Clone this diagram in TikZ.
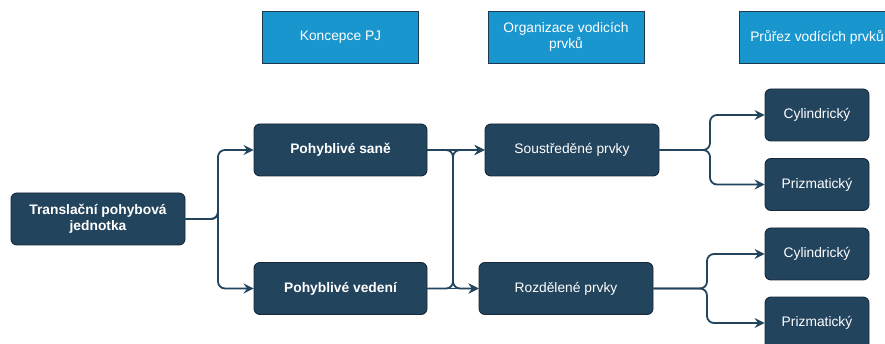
\documentclass[tikz,border=0pt]{standalone}
\usepackage{fontspec}
\setmainfont{Liberation Sans}
\usetikzlibrary{arrows.meta}
\definecolor{darkbox}{HTML}{23445D}
\definecolor{darkedge}{HTML}{16283A}
\definecolor{headfill}{HTML}{1A96CF}
\definecolor{headedge}{HTML}{1E3A4F}
\tikzset{
  x=1pt, y=-1pt,
  darknode/.style={draw=darkedge, line width=0.9pt, fill=darkbox, rounded corners=6pt,
    text=white, align=center, inner sep=2pt, minimum height=52pt,
    font=\fontsize{13.8}{16}\selectfont},
  boldnode/.style={darknode, font=\fontsize{13.8}{16}\selectfont\bfseries},
  headnode/.style={draw=headedge, line width=0.9pt, fill=headfill, text=white,
    align=center, minimum height=52pt, minimum width=156pt, inner sep=2pt,
    font=\fontsize{13.8}{16}\selectfont},
  conn/.style={draw=darkbox, line width=1.8pt, rounded corners=7pt,
    -{Stealth[length=10pt,width=10pt,inset=3.5pt]}},
}
\begin{document}
\begin{tikzpicture}
\useasboundingbox (0,0) rectangle (885,344);
\fill[white] (0,0) rectangle (885,344);
\clip (0,0) rectangle (885,344);
% headers
\node[headnode] (h1) at (340.5,37) {Koncepce PJ};
\node[headnode] (h2) at (566,37) {Organizace vodicích\\prvků};
\node[headnode] (h3) at (817,37) {Průřez vodících prvků};
% boxes
\node[boldnode, minimum width=174pt] (t) at (98,219) {Translační pohybová\\jednotka};
\node[boldnode, minimum width=173pt] (s) at (340.5,150) {Pohyblivé saně};
\node[boldnode, minimum width=173pt] (v) at (340.5,288.5) {Pohyblivé vedení};
\node[darknode, minimum width=174pt] (so) at (572,150) {Soustředěné prvky};
\node[darknode, minimum width=174pt] (ro) at (566,288.5) {Rozdělené prvky};
\node[darknode, minimum width=104pt] (c1) at (817,115) {Cylindrický};
\node[darknode, minimum width=104pt] (p1) at (817,184.5) {Prizmatický};
\node[darknode, minimum width=104pt] (c2) at (817,254) {Cylindrický};
\node[darknode, minimum width=104pt] (p2) at (817,323) {Prizmatický};
% junction coordinates
\coordinate (j1) at (218,219);
\coordinate (j2) at (453,219);
\coordinate (j3) at (710,150);
\coordinate (j4) at (707,288.5);
% connectors
\draw[conn] (t.east) -| (j1) |- (s.west);
\draw[conn] (t.east) -| (j1) |- (v.west);
\draw[conn] (s.east) -- (so.west);
\draw[conn] (v.east) -- (ro.west);
\draw[conn] (s.east) -| (j2) |- (ro.west);
\draw[conn] (v.east) -| (j2) |- (so.west);
\draw[conn] (so.east) -- (j3) |- (c1.west);
\draw[conn] (so.east) -- (j3) |- (p1.west);
\draw[conn] (ro.east) -- (j4) |- (c2.west);
\draw[conn] (ro.east) -- (j4) |- (p2.west);
\end{tikzpicture}
\end{document}
